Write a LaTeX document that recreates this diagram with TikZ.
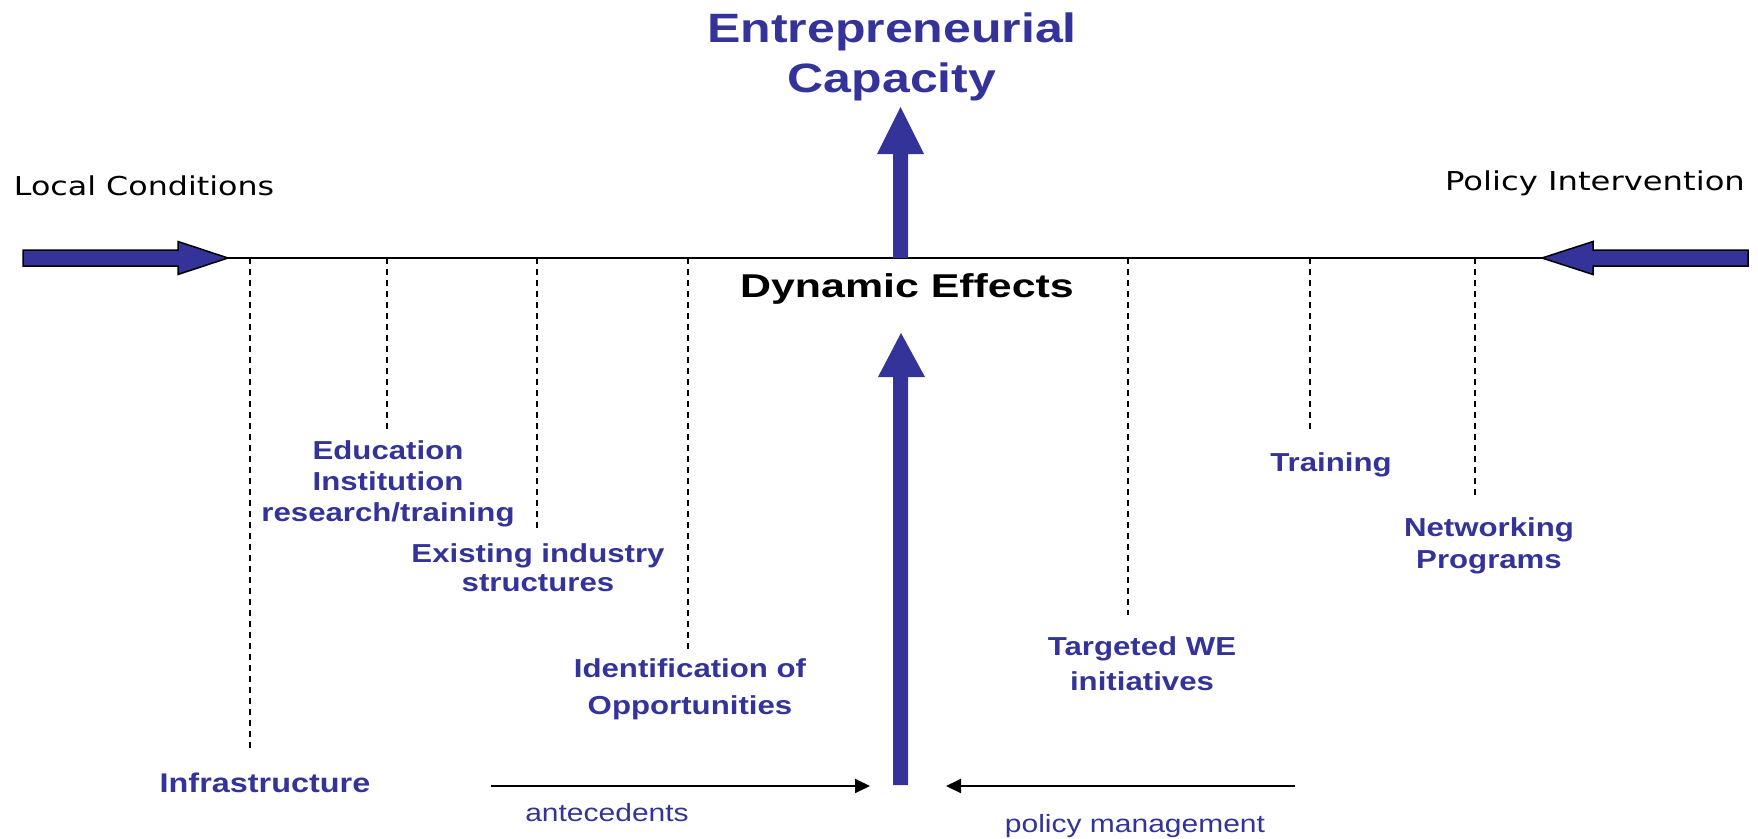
\documentclass[tikz,border=0pt]{standalone}
\usepackage{fontspec}
\setmainfont{Liberation Sans}
\newfontfamily\dejavu{DejaVu Sans}
\usepackage{graphicx}
\usetikzlibrary{arrows.meta}
\definecolor{wblue}{RGB}{51,51,153}
\newcommand\sx[2][1.2]{\scalebox{#1}[1]{\begin{tabular}[t]{@{}c@{}}#2\end{tabular}}}
\tikzset{
  lbl/.style={anchor=base,inner sep=0pt,outer sep=0pt},
  bluelbl/.style={lbl,text=wblue,font=\fontsize{26}{#1}\selectfont\bfseries},
  bluelbl/.default=32,
  sidelbl/.style={lbl,text=black,font=\dejavu\fontsize{26}{32}\selectfont},
  smalllbl/.style={lbl,text=wblue,font=\fontsize{25}{30}\selectfont},
  dashline/.style={draw=black,line width=1.6pt,dash pattern=on 6pt off 5pt},
  blockarrow/.style={fill=wblue,draw=black,line width=1.5pt,line join=miter},
  bigarrow/.style={fill=wblue,draw=none},
  thinarrow/.style={draw=black,line width=2pt,-{Triangle[length=15pt,width=14pt]}}
}
\begin{document}
\begin{tikzpicture}[x=1pt,y=-1pt]
\useasboundingbox (0,0) rectangle (1758,838);

% texts
\node[lbl,text=wblue,font=\fontsize{41}{50}\selectfont\bfseries] (title) at (892,42) {\sx[1.22]{Entrepreneurial\\Capacity}};
\node[lbl,text=black,font=\fontsize{33}{38}\selectfont\bfseries] (dyn) at (907,297) {\sx[1.3]{Dynamic Effects}};
\node[sidelbl] (local) at (144,195) {\sx[1.22]{Local Conditions}};
\node[sidelbl] (policy) at (1595,190) {\sx[1.24]{Policy Intervention}};
\node[bluelbl=31] (edu) at (388,459) {\sx{Education\\Institution\\research/training}};
\node[bluelbl=29] (exist) at (538,562) {\sx{Existing industry\\structures}};
\node[bluelbl=37] (ident) at (690,677) {\sx{Identification of\\Opportunities}};
\node[lbl,text=wblue,font=\fontsize{27}{32}\selectfont\bfseries] (infra) at (265,792) {\sx{Infrastructure}};
\node[bluelbl=35] (target) at (1142,655) {\sx{Targeted WE\\initiatives}};
\node[bluelbl] (train) at (1331,471) {\sx{Training}};
\node[bluelbl=32] (net) at (1489,536) {\sx{Networking\\Programs}};
\node[smalllbl] (ante) at (607,821) {\sx{antecedents}};
\node[smalllbl] (pman) at (1135,832) {\sx{policy management}};

% main horizontal line
\coordinate (ltip) at (228,258);
\coordinate (rtip) at (1542,258);
\draw[line width=2pt] (ltip) -- (rtip);

% side block arrows
\draw[blockarrow] (23,250) -- (178,250) -- (178,241.5) -- (ltip) -- (178,274.5) -- (178,266) -- (23,266) -- cycle;
\draw[blockarrow] (1748,250) -- (1593,250) -- (1593,241.5) -- (rtip) -- (1593,274.5) -- (1593,266) -- (1748,266) -- cycle;

% vertical big arrows
\fill[bigarrow] (893,258) -- (893,154) -- (877,154) -- (900.5,107) -- (924,154) -- (908,154) -- (908,258) -- cycle;
\fill[bigarrow] (893,785) -- (893,377) -- (878,377) -- (901,333) -- (925,377) -- (908,377) -- (908,785) -- cycle;

% dashed drop lines
\foreach \n/\x/\y in {a/250/752, b/387/433, c/537/528, d/688/652, e/1128/615, f/1310/433, g/1475/499}{
  \coordinate (top\n) at (\x,258);
  \coordinate (bot\n) at (\x,\y);
  \draw[dashline] (top\n) -- (bot\n);
}

% bottom thin arrows
\coordinate (antS) at (491,786);
\coordinate (antE) at (870,786);
\coordinate (polS) at (1295,786);
\coordinate (polE) at (946,786);
\draw[thinarrow] (antS) -- (antE);
\draw[thinarrow] (polS) -- (polE);
\end{tikzpicture}
\end{document}
